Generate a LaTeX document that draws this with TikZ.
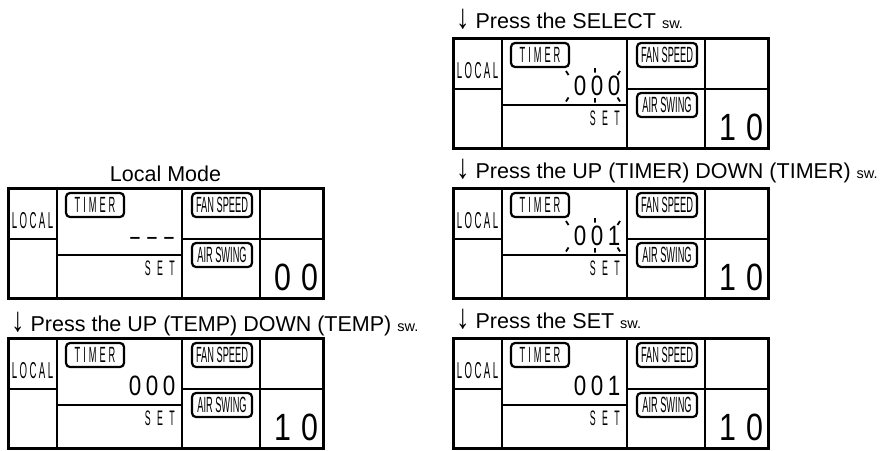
\documentclass[tikz,border=0pt]{standalone}
\usepackage{fontspec}
\usepackage{graphicx}
\setmainfont{Liberation Sans}
\newfontfamily\lcdlet[FakeStretch=0.42]{Liberation Sans}
\newfontfamily\lcdlab[FakeStretch=0.42]{Liberation Sans}
\newfontfamily\lcddig[FakeStretch=0.8]{Liberation Sans}
\newfontfamily\lcddash[FakeStretch=0.6]{Liberation Sans}
\newfontfamily\lcdbig[FakeStretch=0.8]{Liberation Sans}
\tikzset{
 outer/.style={line width=3pt},
 inner/.style={line width=2.2pt},
 lblbox/.style={draw, line width=2.2pt, rounded corners=4pt, minimum height=24pt, inner sep=0pt, font=\lcdlab\fontsize{22}{22}\selectfont},
 lcdtext/.style={inner sep=0pt, font=\lcdlet\fontsize{21}{21}\selectfont},
 tdig/.style={inner sep=0pt, anchor=base, font=\lcddig\fontsize{28}{28}\selectfont},
 tdash/.style={inner sep=0pt, anchor=base, font=\lcddash\fontsize{28}{28}\selectfont},
 bdig/.style={inner sep=0pt, anchor=base, font=\lcdbig\fontsize{38}{38}\selectfont},
 head/.style={inner sep=0pt, anchor=base west, font=\fontsize{21.5}{21.5}\selectfont},
 tick/.style={line width=1.8pt},
}
\newcommand\swtext{{\fontsize{14.5}{14.5}\selectfont sw.}}
\newcommand\darr{\scalebox{1.25}[1.6]{↓}}
\newcommand\lcdpanel[5]{%
\begin{scope}[shift={(#2,#3)}]
 \draw[outer] (0,0) rectangle (315,110);
 \draw[inner] (49,0) -- (49,110) (174,0) -- (174,110) (252,0) -- (252,110)
   (0,51) -- (49,51) (174,51) -- (315,51) (49,67) -- (174,67);
 \node[lcdtext, anchor=base, font=\lcdlet\fontsize{23}{23}\selectfont] (#1-local) at (24.5,40.5) {L\kern2.4pt O\kern2.4pt C\kern2.4pt A\kern2.4pt L};
 \node[lblbox, minimum width=58pt] (#1-timer) at (87,17) {T\kern3pt I\kern3pt M\kern3pt E\kern3pt R};
 \node[lblbox, minimum width=60pt] (#1-fan) at (214,17) {FAN SPEED};
 \node[lblbox, minimum width=60pt] (#1-air) at (214,67) {AIR SWING};
 \node[lcdtext, anchor=base east] (#1-set) at (167,87) {S\kern6.4pt E\kern6.4pt T};
 \node[bdig] (#1-b1) at (275,102.5) {#4};
 \node[bdig] (#1-b2) at (302,102.5) {#5};
\end{scope}}
\newcommand\tdigits[7]{%
\begin{scope}[shift={(#2,#3)}]
 \node[#7] (#1-d1) at (127,57.5) {#4};
 \node[#7] (#1-d2) at (144,57.5) {#5};
 \node[#7] (#1-d3) at (161,57.5) {#6};
\end{scope}}
\newcommand\blink[2]{%
\begin{scope}[shift={(#1,#2)}]
 \draw[tick] (113,33) -- (115.5,37) (142,30) -- (142,34.5) (167,33) -- (164.5,37)
   (113,63.5) -- (115.5,59.5) (142,60) -- (142,64.5) (167,63.5) -- (164.5,59.5);
\end{scope}}
\begin{document}
\begin{tikzpicture}[x=1pt,y=-1pt]
\useasboundingbox (0,0) rectangle (896,450);
% headings
\node[head, anchor=base] (h0) at (165.5,181) {Local Mode};
\node[head] (h1) at (11,331.5) {\darr\kern6pt Press the UP (TEMP) DOWN (TEMP) \swtext};
\node[head] (h2) at (456,28) {\darr\kern6pt Press the SELECT \swtext};
\node[head] (h3) at (456,178) {\darr\kern6pt Press the UP (TIMER) DOWN (TIMER) \swtext};
\node[head] (h4) at (456,328) {\darr\kern6pt Press the SET \swtext};
% panels
\lcdpanel{p1}{8}{188}{0}{0}
\tdigits{p1}{8}{188}{–}{–}{–}{tdash}
\lcdpanel{p2}{8}{338}{1}{0}
\tdigits{p2}{8}{338}{0}{0}{0}{tdig}
\lcdpanel{p3}{453}{38}{1}{0}
\tdigits{p3}{453}{38}{0}{0}{0}{tdig}
\blink{453}{38}
\lcdpanel{p4}{453}{188}{1}{0}
\tdigits{p4}{453}{188}{0}{0}{1}{tdig}
\blink{453}{188}
\lcdpanel{p5}{453}{338}{1}{0}
\tdigits{p5}{453}{338}{0}{0}{1}{tdig}
\end{tikzpicture}
\end{document}
